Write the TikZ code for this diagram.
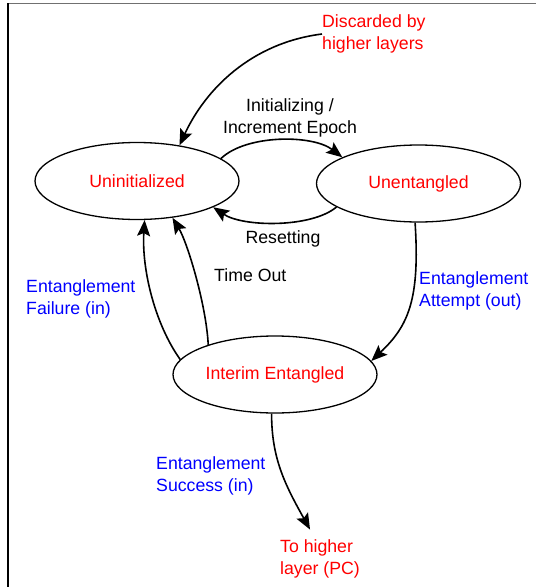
\documentclass[tikz,border=0pt]{standalone}
\usepackage{fontspec}
\setmainfont{Liberation Sans}
\usetikzlibrary{shapes.geometric,arrows.meta}
\definecolor{statered}{RGB}{255,0,0}
\definecolor{eventblue}{RGB}{0,0,255}
\definecolor{framegray}{RGB}{112,112,112}

\begin{document}
\begin{tikzpicture}[x=1pt,y=-1pt,
  state/.style={ellipse, draw, line width=1.3pt, minimum width=204pt,
    minimum height=77pt, inner sep=0pt, text=statered,
    font=\fontsize{17.7}{22}\selectfont},
  lbl/.style={inner sep=0pt, align=left, font=\fontsize{17.7}{22}\selectfont},
  evt/.style={lbl, text=eventblue},
  ext/.style={lbl, text=statered},
  trans/.style={line width=1.6pt,
    -{Stealth[length=16pt,width=13pt,inset=3pt]}},
]
\useasboundingbox (0,0) rectangle (536,587);

% page frame (top and left edges)
\draw[framegray, line width=1.5pt] (8,3.5) -- (536,3.5);
\draw[black, line width=1.5pt] (8,3) -- (8,587);

% states
\node[state] (uninit)  at (137,181)   {Uninitialized};
\node[state] (unent)   at (418.5,183.5) {Unentangled};
\node[state] (interim) at (275,374.5) {Interim Entangled};

% external endpoints
\node[ext, anchor=west] (disc)     at (322,34)  {Discarded by\\higher layers};
\node[ext, anchor=west] (tohigher) at (280,559) {To higher\\layer (PC)};

% transition labels
\node[lbl, align=center] (initlbl) at (290,117.5) {Initializing /\\Increment Epoch};
\node[lbl] (resetlbl) at (283,238.5) {Resetting};
\node[lbl, anchor=west] (timeoutlbl) at (214,275) {Time Out};
\node[evt, anchor=west] (faillbl)    at (26,298.5)  {Entanglement\\Failure (in)};
\node[evt, anchor=west] (attemptlbl) at (419,290.5) {Entanglement\\Attempt (out)};
\node[evt, anchor=west] (successlbl) at (156,476)   {Entanglement\\Success (in)};

% transitions
\draw[trans] (disc.west) .. controls +(-71,9) and +(26,-56) .. (uninit.40);
\draw[trans] (uninit.15) .. controls +(25,-24) and +(-30,-23) .. (unent.161);
\draw[trans] (unent.196) .. controls +(-25,21) and +(30,20) .. (uninit.341);
\draw[trans] (interim.171) .. controls +(-25,-35) and +(-3,50) .. (uninit.281);
\draw[trans] (interim.156) .. controls +(-2,-40) and +(15,25) .. (uninit.314);
\draw[trans] (unent.265) .. controls +(5,77) and +(37,-35) .. (interim.8);
\draw[trans] (interim.265) .. controls +(0,45) and +(-25,-45)
  .. ([xshift=-10pt,yshift=10pt]tohigher.north);
\end{tikzpicture}
\end{document}
